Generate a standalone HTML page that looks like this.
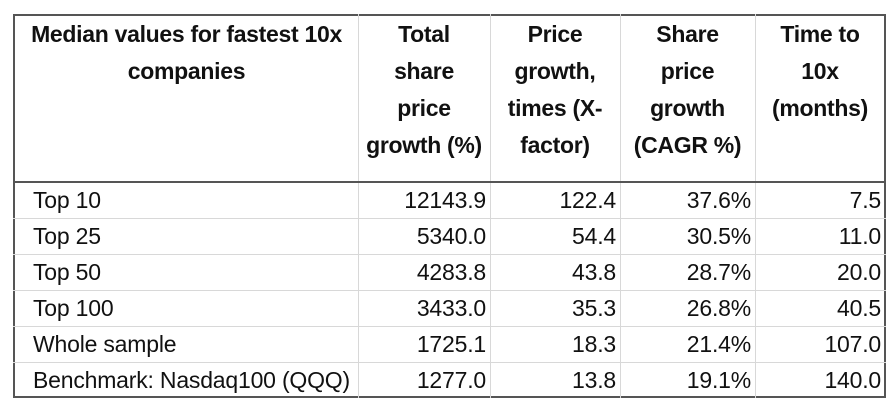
<!DOCTYPE html>
<html><head><meta charset="utf-8"><style>
body{margin:0;width:892px;height:412px;background:#fff;font-family:"Liberation Sans",Arial,sans-serif;color:#111;position:relative;overflow:hidden}
.t{position:absolute;left:13px;top:14px;width:873px;height:384px;border:2px solid #555;box-sizing:border-box}
.v{position:absolute;top:14px;height:384px;width:1px;background:#d8d8d8}
.h{position:absolute;left:13px;width:873px;height:1px;background:#d8d8d8}
.hd{position:absolute;top:16px;font-weight:bold;font-size:23px;line-height:37px;text-align:center;letter-spacing:-0.3px}
.c{position:absolute;font-size:23px;line-height:36px;height:36px;letter-spacing:-0.2px}
.r{text-align:right}
</style></head><body>
<div class="t"></div>
<div class="v" style="left:358px"></div>
<div class="v" style="left:490px"></div>
<div class="v" style="left:620px"></div>
<div class="v" style="left:755px"></div>
<div class="h" style="top:181px;height:2px;background:#555"></div>
<div class="hd" style="left:15px;width:343px">Median values for fastest 10x<br>companies</div>
<div class="hd" style="left:358px;width:132px">Total<br>share<br>price<br>growth (%)</div>
<div class="hd" style="left:490px;width:130px">Price<br>growth,<br>times (X-<br>factor)</div>
<div class="hd" style="left:620px;width:135px">Share<br>price<br>growth<br>(CAGR %)</div>
<div class="hd" style="left:755px;width:130px">Time to<br>10x<br>(months)</div>
<script>
const labels=["Top 10","Top 25","Top 50","Top 100","Whole sample","Benchmark: Nasdaq100 (QQQ)"];
const totalGrowth=["12143.9","5340.0","4283.8","3433.0","1725.1","1277.0"];
const xFactor=["122.4","54.4","43.8","35.3","18.3","13.8"];
const cagr=["37.6%","30.5%","28.7%","26.8%","21.4%","19.1%"];
const months=["7.5","11.0","20.0","40.5","107.0","140.0"];
const root=document.body;
const rowH=36,top0=183;
function cell(txt,left,w,y,right,name){
  const d=document.createElement('div');
  d.className='c'+(right?' r':'');
  d.style.left=left+'px';d.style.width=w+'px';d.style.top=y+'px';
  d.textContent=txt;
  
  
  root.appendChild(d);
}
labels.forEach((l,i)=>{
  const y=top0+i*rowH-1;
  if(i>0){const h=document.createElement('div');h.className='h';h.style.top=(top0+i*rowH-1)+'px';
    
    
    root.appendChild(h);}
  cell(l,33,325,y,false,'row-label');
  cell(totalGrowth[i],358,128,y,true,'total-growth-value');
  cell(xFactor[i],490,126,y,true,'x-factor-value');
  cell(cagr[i],620,131,y,true,'cagr-value');
  cell(months[i],755,126,y,true,'months-value');
});
</script>
</body></html>
